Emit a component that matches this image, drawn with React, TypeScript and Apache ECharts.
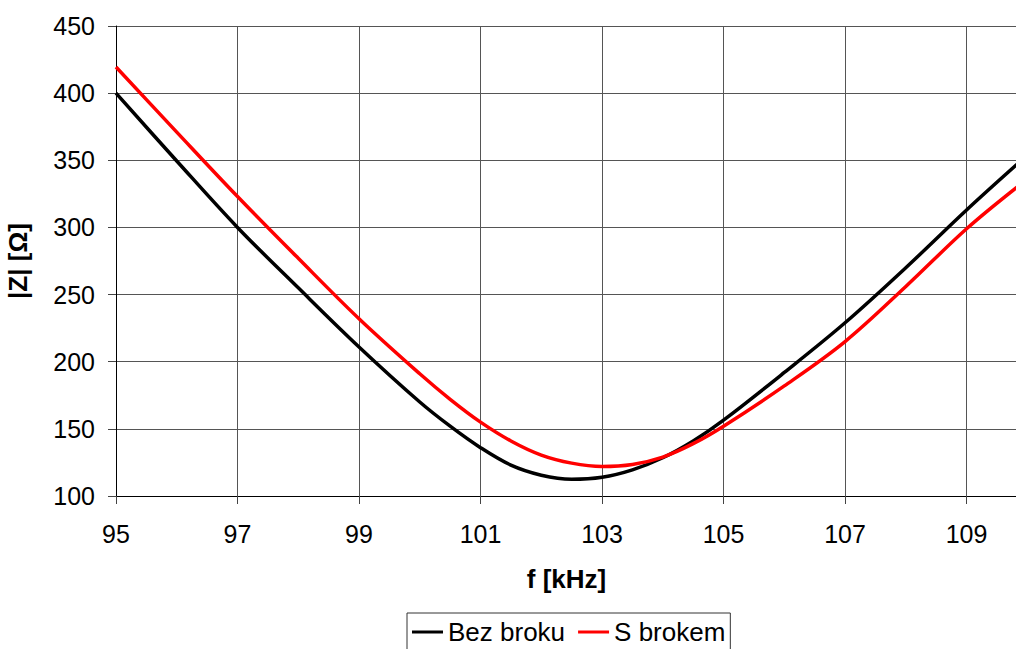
import React, { useEffect, useRef } from "react";
import * as echarts from "echarts";

// Frequency sweep [kHz] and impedance magnitude |Z| [Ω]
const freqKHz = [95, 96, 97, 98, 99, 100, 100.5, 101, 101.5, 102, 102.5, 103, 103.5, 104, 104.5, 105, 106, 107, 108, 109, 109.83];
const bezBroku = [400, 349.5, 300, 255, 211, 170, 152, 136, 123, 115.5, 112.5, 114, 119.5, 128.5, 141, 156.5, 192, 229, 270, 313, 347];
const sBrokem = [419.5, 371, 323, 277, 232, 191, 172, 155, 141, 130.5, 124.5, 122, 123.5, 129, 139, 152, 182, 215, 256, 299, 330];

const xTickStart = 95;
const xTickStep = 2;
const yTicks = { min: 100, max: 450, step: 50 };

const FONT = '"Liberation Sans", Arial, sans-serif';

export default function App() {
  const ref = useRef<HTMLDivElement>(null);

  useEffect(() => {
    if (!ref.current) return;
    const chart = echarts.init(ref.current, null, { renderer: "svg" });

    // x values are shifted so the tick grid starts at 0 (multiples of the step)
    const toPoints = (ys: number[]) => freqKHz.map((f, i) => [f - xTickStart, ys[i]]);

    chart.setOption({
      animation: false,
      backgroundColor: "#ffffff",
      textStyle: { fontFamily: FONT },
      grid: {
        left: 116,
        top: 26,
        right: -1,
        bottom: 153,
        containLabel: false,
        outerBoundsMode: "none",
      },
      legend: {
        left: 407,
        top: 613,
        padding: [6, 5, 6, 5],
        borderColor: "#333",
        borderWidth: 1,
        itemGap: 13,
        itemWidth: 31,
        itemHeight: 3,
        icon: "rect",
        textStyle: { fontFamily: FONT, fontSize: 26, color: "#000" },
        data: ["Bez broku", "S brokem"],
      },
      xAxis: {
        type: "value",
        min: 0,
        max: freqKHz[freqKHz.length - 1] - xTickStart,
        interval: xTickStep,
        name: "f [kHz]",
        nameLocation: "middle",
        nameGap: 70,
        nameTextStyle: { fontFamily: FONT, fontSize: 26, fontWeight: "bold", color: "#000" },
        axisLine: { lineStyle: { color: "#000", width: 1 } },
        axisTick: { show: true, inside: false, length: 8, lineStyle: { color: "#444" } },
        axisLabel: {
          margin: 25,
          fontFamily: FONT,
          fontSize: 25,
          color: "#000",
          showMaxLabel: false,
          formatter: (v: number) => String(Math.round(v + xTickStart)),
        },
        splitLine: { show: true, lineStyle: { color: "#555", width: 1 } },
      },
      yAxis: {
        type: "value",
        min: yTicks.min,
        max: yTicks.max,
        interval: yTicks.step,
        name: "|Z| [Ω]",
        nameLocation: "middle",
        nameGap: 85,
        nameRotate: 90,
        nameTextStyle: { fontFamily: FONT, fontSize: 26, fontWeight: "bold", color: "#000" },
        axisLine: { show: true, lineStyle: { color: "#000", width: 1 } },
        axisTick: { show: true, inside: false, length: 8, lineStyle: { color: "#444" } },
        axisLabel: { margin: 21, fontFamily: FONT, fontSize: 25, color: "#000" },
        splitLine: { show: true, lineStyle: { color: "#555", width: 1 } },
      },
      series: [
        {
          name: "Bez broku",
          type: "line",
          data: toPoints(bezBroku),
          smooth: 0.35,
          showSymbol: false,
          symbol: "none",
          lineStyle: { color: "#000", width: 3.5 },
          itemStyle: { color: "#000" },
        },
        {
          name: "S brokem",
          type: "line",
          data: toPoints(sBrokem),
          smooth: 0.35,
          showSymbol: false,
          symbol: "none",
          lineStyle: { color: "#ff0000", width: 3.5 },
          itemStyle: { color: "#ff0000" },
        },
      ],
    });

    return () => chart.dispose();
  }, []);

  return (
    <div
      ref={ref}
      style={{ position: "fixed", left: 0, top: 0, width: 1016, height: 649, background: "#fff" }}
    />
  );
}
